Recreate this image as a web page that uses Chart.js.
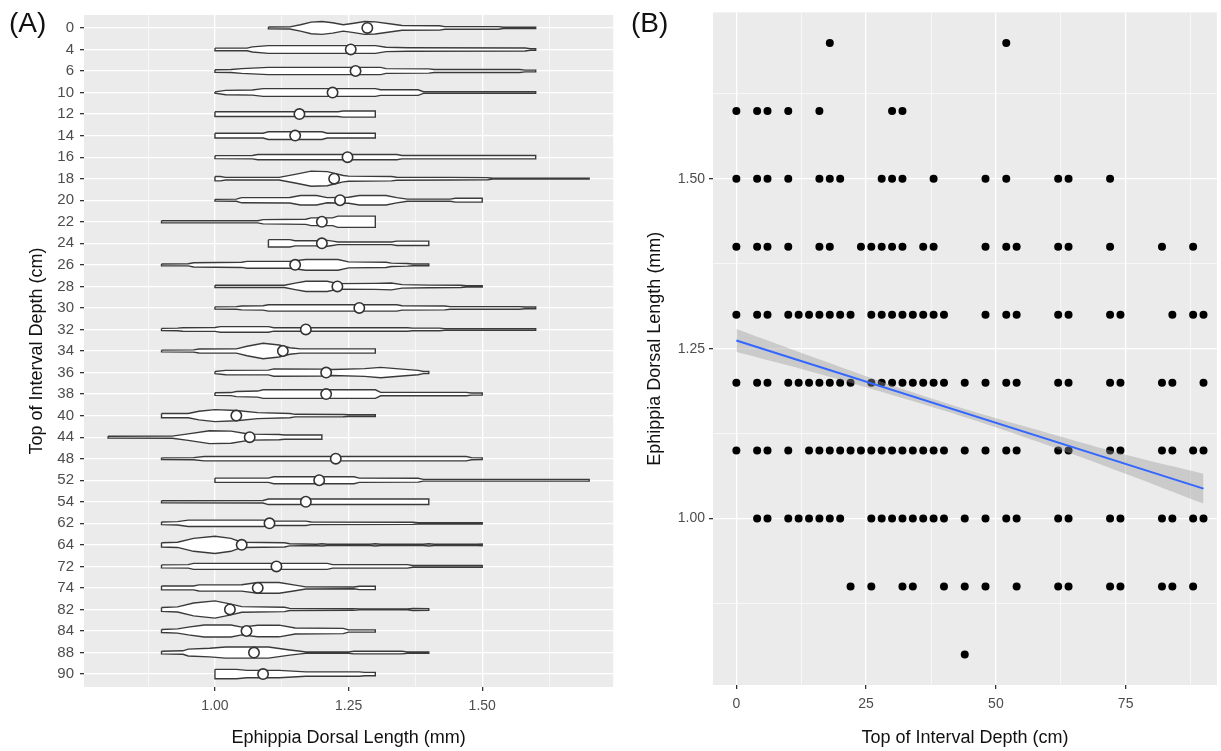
<!DOCTYPE html>
<html>
<head>
<meta charset="utf-8">
<script src="https://cdn.jsdelivr.net/npm/chart.js@4.4.1/dist/chart.umd.min.js"></script>
<style>
  html, body { margin: 0; padding: 0; background: #fff; }
  #wrap { position: relative; width: 1221px; height: 751px; overflow: hidden; }
  canvas { position: absolute; top: 0; }
  #chartA { left: 0; }
  #chartB { left: 620px; }
  .tag { position: absolute; top: 7px; font: 28px 'Liberation Sans', Arial, sans-serif; color: #111; }
</style>
</head>
<body>
<div id="wrap">
  <canvas id="chartA" width="620" height="751"></canvas>
  <canvas id="chartB" width="601" height="751"></canvas>
  <div class="tag" style="left:9px">(A)</div>
  <div class="tag" style="left:631px">(B)</div>
</div>
<script>
// ---- Panel A: dorsal length by interval depth (violins + means) ----
const depthLabels = ['0', '4', '6', '10', '12', '14', '16', '18', '20', '22', '24', '26', '28', '30', '32',
  '34', '36', '38', '40', '44', '48', '52', '54', '62', '64', '72', '74', '82', '84', '88', '90'];

const meanLengths = [1.285, 1.254, 1.263, 1.22, 1.158, 1.15, 1.248, 1.223, 1.234, 1.2, 1.2, 1.15, 1.229,
  1.27, 1.17, 1.127, 1.208, 1.208, 1.04, 1.065, 1.226, 1.195, 1.17, 1.102, 1.05, 1.115, 1.08, 1.028,
  1.059, 1.073, 1.09];

// violin outline per depth: [length (mm), half width (fraction of a row)]
const violinProfiles = [
  /* 0 */  [[1.10, 0.04], [1.14, 0.05], [1.16, 0.15], [1.18, 0.27], [1.20, 0.3], [1.22, 0.24], [1.24, 0.15], [1.26, 0.22], [1.28, 0.3], [1.30, 0.28], [1.33, 0.18], [1.35, 0.11], [1.42, 0.1], [1.43, 0.06], [1.53, 0.06], [1.54, 0.03], [1.60, 0.03]],
  /* 4 */  [[1.00, 0.06], [1.06, 0.06], [1.07, 0.12], [1.10, 0.18], [1.30, 0.18], [1.32, 0.1], [1.36, 0.08], [1.58, 0.07], [1.59, 0.04], [1.60, 0.04]],
  /* 6 */  [[1.00, 0.06], [1.03, 0.07], [1.05, 0.11], [1.10, 0.17], [1.31, 0.17], [1.32, 0.11], [1.40, 0.1], [1.41, 0.07], [1.57, 0.07], [1.58, 0.04], [1.60, 0.04]],
  /* 10 */ [[1.00, 0.03], [1.02, 0.1], [1.07, 0.12], [1.09, 0.18], [1.30, 0.18], [1.31, 0.13], [1.38, 0.13], [1.39, 0.04], [1.60, 0.04]],
  /* 12 */ [[1.00, 0.11], [1.23, 0.11], [1.24, 0.14], [1.30, 0.14]],
  /* 14 */ [[1.00, 0.11], [1.09, 0.11], [1.10, 0.18], [1.20, 0.18], [1.21, 0.11], [1.30, 0.11]],
  /* 16 */ [[1.00, 0.07], [1.07, 0.08], [1.08, 0.12], [1.34, 0.12], [1.35, 0.08], [1.60, 0.08]],
  /* 18 */ [[1.00, 0.1], [1.01, 0.1], [1.02, 0.06], [1.12, 0.06], [1.15, 0.2], [1.18, 0.35], [1.21, 0.33], [1.24, 0.15], [1.25, 0.12], [1.33, 0.1], [1.34, 0.07], [1.44, 0.06], [1.51, 0.05], [1.52, 0.02], [1.70, 0.02]],
  /* 20 */ [[1.00, 0.04], [1.04, 0.05], [1.05, 0.12], [1.14, 0.13], [1.16, 0.22], [1.19, 0.22], [1.21, 0.12], [1.25, 0.14], [1.27, 0.22], [1.32, 0.22], [1.34, 0.12], [1.36, 0.05], [1.44, 0.05], [1.45, 0.09], [1.50, 0.09]],
  /* 22 */ [[0.90, 0.05], [1.08, 0.05], [1.09, 0.1], [1.17, 0.12], [1.18, 0.18], [1.22, 0.18], [1.23, 0.26], [1.30, 0.26]],
  /* 24 */ [[1.10, 0.17], [1.14, 0.17], [1.15, 0.12], [1.19, 0.12], [1.20, 0.17], [1.22, 0.1], [1.23, 0.06], [1.33, 0.06], [1.34, 0.1], [1.40, 0.1]],
  /* 26 */ [[0.90, 0.04], [0.95, 0.05], [0.96, 0.1], [1.05, 0.12], [1.06, 0.16], [1.14, 0.16], [1.17, 0.25], [1.23, 0.25], [1.25, 0.14], [1.32, 0.12], [1.33, 0.08], [1.36, 0.06], [1.37, 0.04], [1.40, 0.04]],
  /* 28 */ [[1.00, 0.05], [1.13, 0.05], [1.15, 0.15], [1.17, 0.24], [1.21, 0.24], [1.23, 0.13], [1.30, 0.14], [1.33, 0.16], [1.35, 0.08], [1.40, 0.06], [1.46, 0.05], [1.47, 0.03], [1.50, 0.03]],
  /* 30 */ [[1.00, 0.05], [1.04, 0.06], [1.05, 0.09], [1.09, 0.1], [1.10, 0.15], [1.34, 0.15], [1.35, 0.1], [1.43, 0.09], [1.44, 0.06], [1.57, 0.06], [1.58, 0.04], [1.60, 0.04]],
  /* 32 */ [[0.90, 0.05], [0.93, 0.06], [0.94, 0.08], [1.00, 0.09], [1.01, 0.13], [1.10, 0.13], [1.11, 0.08], [1.36, 0.08], [1.37, 0.06], [1.42, 0.06], [1.43, 0.04], [1.60, 0.04]],
  /* 34 */ [[0.90, 0.04], [0.96, 0.05], [0.97, 0.09], [1.04, 0.1], [1.06, 0.22], [1.09, 0.36], [1.12, 0.28], [1.14, 0.15], [1.16, 0.1], [1.30, 0.1]],
  /* 36 */ [[1.00, 0.05], [1.02, 0.1], [1.10, 0.11], [1.11, 0.17], [1.20, 0.16], [1.22, 0.14], [1.28, 0.18], [1.31, 0.24], [1.35, 0.16], [1.38, 0.1], [1.39, 0.05], [1.40, 0.05]],
  /* 38 */ [[1.00, 0.06], [1.03, 0.07], [1.04, 0.12], [1.08, 0.14], [1.09, 0.2], [1.30, 0.2], [1.31, 0.08], [1.47, 0.08], [1.48, 0.05], [1.50, 0.05]],
  /* 40 */ [[0.90, 0.1], [0.95, 0.1], [0.97, 0.2], [1.00, 0.28], [1.04, 0.24], [1.08, 0.14], [1.14, 0.1], [1.15, 0.06], [1.24, 0.05], [1.25, 0.04], [1.30, 0.04]],
  /* 44 */ [[0.80, 0.04], [0.92, 0.05], [0.95, 0.15], [0.99, 0.3], [1.03, 0.28], [1.06, 0.16], [1.07, 0.14], [1.12, 0.12], [1.13, 0.1], [1.20, 0.1]],
  /* 48 */ [[0.90, 0.04], [0.96, 0.05], [0.98, 0.1], [1.47, 0.1], [1.48, 0.05], [1.50, 0.04]],
  /* 52 */ [[1.00, 0.1], [1.10, 0.1], [1.11, 0.16], [1.26, 0.16], [1.27, 0.1], [1.38, 0.09], [1.39, 0.04], [1.70, 0.04]],
  /* 54 */ [[0.90, 0.05], [1.09, 0.06], [1.10, 0.13], [1.40, 0.13]],
  /* 62 */ [[0.90, 0.06], [0.93, 0.08], [0.95, 0.15], [1.09, 0.15], [1.11, 0.1], [1.17, 0.1], [1.18, 0.06], [1.37, 0.05], [1.38, 0.03], [1.50, 0.03]],
  /* 64 */ [[0.90, 0.1], [0.93, 0.12], [0.96, 0.3], [1.00, 0.4], [1.03, 0.3], [1.05, 0.12], [1.13, 0.1], [1.14, 0.05], [1.19, 0.03], [1.20, 0.05], [1.21, 0.03], [1.29, 0.03], [1.30, 0.05], [1.31, 0.03], [1.39, 0.03], [1.40, 0.05], [1.41, 0.03], [1.49, 0.03], [1.50, 0.04]],
  /* 72 */ [[0.90, 0.07], [0.95, 0.08], [0.96, 0.14], [1.21, 0.14], [1.22, 0.08], [1.36, 0.08], [1.37, 0.04], [1.50, 0.04]],
  /* 74 */ [[0.90, 0.09], [0.96, 0.09], [0.97, 0.14], [1.05, 0.15], [1.08, 0.25], [1.12, 0.25], [1.15, 0.13], [1.17, 0.05], [1.26, 0.04], [1.27, 0.08], [1.30, 0.08]],
  /* 82 */ [[0.90, 0.09], [0.93, 0.12], [0.96, 0.3], [1.00, 0.4], [1.03, 0.25], [1.05, 0.13], [1.13, 0.1], [1.14, 0.05], [1.26, 0.04], [1.27, 0.02], [1.36, 0.02], [1.37, 0.05], [1.40, 0.04]],
  /* 84 */ [[0.90, 0.07], [0.93, 0.1], [0.95, 0.18], [0.98, 0.28], [1.03, 0.28], [1.05, 0.18], [1.08, 0.27], [1.12, 0.27], [1.15, 0.14], [1.24, 0.12], [1.25, 0.05], [1.30, 0.05]],
  /* 88 */ [[0.90, 0.06], [0.94, 0.08], [0.95, 0.16], [0.99, 0.2], [1.02, 0.26], [1.10, 0.26], [1.14, 0.12], [1.16, 0.06], [1.17, 0.03], [1.25, 0.03], [1.26, 0.06], [1.35, 0.06], [1.36, 0.03], [1.40, 0.03]],
  /* 90 */ [[1.00, 0.22], [1.04, 0.22], [1.06, 0.17], [1.12, 0.17], [1.17, 0.1], [1.27, 0.1], [1.28, 0.08], [1.30, 0.08]]
];

const lengthMajorTicks = [1.0, 1.25, 1.5];
const lengthMinorTicks = [0.875, 1.125, 1.375, 1.625];

// ---- Panel B: dorsal length vs depth (points + linear fit) ----
const depthsAt170 = [18, 52];
const depthsAt160 = [0, 4, 6, 10, 16, 30, 32];
const depthsAt150 = [0, 4, 6, 10, 16, 18, 20, 28, 30, 32, 38, 48, 52, 62, 64, 72];
const depthsAt140 = [0, 4, 6, 10, 16, 18, 24, 26, 28, 30, 32, 36, 38, 48, 52, 54, 62, 64, 72, 82, 88];
const depthsAt130 = [0, 4, 6, 10, 12, 14, 16, 18, 20, 22, 26, 28, 30, 32, 34, 36, 38, 40, 48, 52, 54, 62, 64, 72, 74, 84, 88, 90];
const depthsAt120 = [0, 4, 6, 10, 12, 14, 16, 18, 20, 22, 26, 28, 30, 32, 34, 36, 38, 40, 44, 48, 52, 54, 62, 64, 72, 74, 82, 84, 90];
const depthsAt110 = [0, 4, 6, 10, 14, 16, 18, 20, 22, 24, 26, 28, 30, 32, 34, 36, 38, 40, 44, 48, 52, 54, 62, 64, 72, 74, 82, 84, 88, 90];
const depthsAt100 = [4, 6, 10, 12, 14, 16, 18, 20, 26, 28, 30, 32, 34, 36, 38, 40, 44, 48, 52, 54, 62, 64, 72, 74, 82, 84, 88, 90];
const depthsAt090 = [22, 26, 32, 34, 40, 44, 48, 54, 62, 64, 72, 74, 82, 84, 88];
const depthsAt080 = [44];

const lengthLevels = [1.7, 1.6, 1.5, 1.4, 1.3, 1.2, 1.1, 1.0, 0.9, 0.8];
const depthsByLevel = [depthsAt170, depthsAt160, depthsAt150, depthsAt140, depthsAt130,
  depthsAt120, depthsAt110, depthsAt100, depthsAt090, depthsAt080];

const fitDepths = [0, 90];
const fitLengths = [1.262, 1.044];
const bandDepths = [0, 15, 30, 45, 60, 75, 90];
const bandUpper = [1.279, 1.237, 1.196, 1.159, 1.126, 1.094, 1.066];
const bandLower = [1.245, 1.215, 1.182, 1.147, 1.108, 1.066, 1.022];

const depthMajorTicks = [0, 25, 50, 75];
const depthMinorTicks = [12.5, 37.5, 62.5, 87.5];

// ---- shared look ----
Chart.defaults.font.family = "'Liberation Sans', Arial, sans-serif";
Chart.defaults.animation = false;

const panelBackground = {
  id: 'panelBackground',
  beforeDraw(chart) {
    const { ctx, chartArea: a } = chart;
    ctx.save();
    ctx.fillStyle = '#ebebeb';
    ctx.fillRect(a.left, a.top, a.right - a.left, a.bottom - a.top);
    ctx.restore();
  }
};

const tickFont = { size: 14 };
const titleFont = { size: 18 };

function gridAxis(major, minor, fmt, extra) {
  const all = major.concat(minor).sort((a, b) => a - b);
  const isMajor = v => major.includes(v);
  return Object.assign({
    type: 'linear',
    afterBuildTicks: s => { s.ticks = all.map(v => ({ value: v })); },
    border: { display: false },
    grid: {
      color: '#ffffff',
      lineWidth: c => (c.tick && isMajor(c.tick.value)) ? 1.3 : 0.6,
      tickColor: c => (c.tick && isMajor(c.tick.value)) ? '#333333' : 'rgba(0,0,0,0)',
      tickLength: 4
    },
    ticks: {
      autoSkip: false, maxRotation: 0, color: '#4d4d4d', font: tickFont, padding: 7,
      callback: v => isMajor(v) ? fmt(v) : ''
    }
  }, extra);
}

// ---- build panel A ----
const violinSets = violinProfiles.map((prof, i) => {
  const upper = prof.map(([v, w]) => ({ x: v, y: i - w }));
  const lower = prof.slice().reverse().map(([v, w]) => ({ x: v, y: i + w }));
  return {
    data: upper.concat(lower, [upper[0]]),
    showLine: true,
    fill: 'shape',
    backgroundColor: '#ffffff',
    borderColor: '#3a3a3a',
    borderWidth: 1.4,
    pointRadius: 0,
    tension: 0,
    order: 1
  };
});

const meanSet = {
  data: meanLengths.map((m, i) => ({ x: m, y: i })),
  pointRadius: 5.2,
  pointBackgroundColor: '#ffffff',
  pointBorderColor: '#333333',
  pointBorderWidth: 1.6,
  order: 0
};

const lengthAxisA = gridAxis(lengthMajorTicks, lengthMinorTicks, v => v.toFixed(2), {
  min: 0.755, max: 1.745,
  afterFit: s => { s.height = 64; },
  title: { display: true, text: 'Ephippia Dorsal Length (mm)', color: '#111', font: titleFont, padding: { top: 0, bottom: 2 } }
});

new Chart(document.getElementById('chartA'), {
  type: 'scatter',
  data: { datasets: [meanSet].concat(violinSets) },
  options: {
    responsive: false,
    events: [],
    layout: { padding: { top: 9, right: 5, left: 0, bottom: 0 } },
    plugins: { legend: { display: false }, tooltip: { enabled: false } },
    scales: {
      x: lengthAxisA,
      y: {
        type: 'linear',
        reverse: true,
        min: -0.6, max: depthLabels.length - 0.4,
        afterBuildTicks: s => { s.ticks = depthLabels.map((_, i) => ({ value: i })); },
        afterFit: s => { s.width = 84; },
        border: { display: false },
        grid: { color: '#ffffff', lineWidth: 1.3, tickColor: '#333333', tickLength: 4 },
        ticks: { autoSkip: false, color: '#4d4d4d', font: { size: 15 }, padding: 6, callback: v => depthLabels[v] },
        title: { display: true, text: 'Top of Interval Depth (cm)', color: '#111', font: titleFont, padding: { top: 26 } }
      }
    }
  },
  plugins: [panelBackground]
});

// ---- build panel B ----
const scatterPoints = [];
lengthLevels.forEach((len, k) => {
  depthsByLevel[k].forEach(d => scatterPoints.push({ x: d, y: len }));
});

const depthAxisB = gridAxis(depthMajorTicks, depthMinorTicks, v => String(v), {
  min: -4.5, max: 92.6,
  afterFit: s => { s.height = 66; },
  title: { display: true, text: 'Top of Interval Depth (cm)', color: '#111', font: titleFont, padding: { top: 0, bottom: 2 } }
});

const lengthAxisB = gridAxis(lengthMajorTicks, lengthMinorTicks, v => v.toFixed(2), {
  min: 0.755, max: 1.745,
  afterFit: s => { s.width = 93; },
  title: { display: true, text: 'Ephippia Dorsal Length (mm)', color: '#111', font: titleFont, padding: { top: 24 } }
});
lengthAxisB.ticks.padding = 4;

new Chart(document.getElementById('chartB'), {
  type: 'scatter',
  data: {
    datasets: [
      {
        data: fitDepths.map((d, i) => ({ x: d, y: fitLengths[i] })),
        showLine: true, borderColor: '#3366ff', borderWidth: 2, pointRadius: 0, fill: false
      },
      {
        data: bandDepths.map((d, i) => ({ x: d, y: bandUpper[i] })),
        showLine: true, borderWidth: 0, borderColor: 'rgba(0,0,0,0)', pointRadius: 0,
        tension: 0.3, fill: '+1', backgroundColor: 'rgba(153,153,153,0.4)'
      },
      {
        data: bandDepths.map((d, i) => ({ x: d, y: bandLower[i] })),
        showLine: true, borderWidth: 0, borderColor: 'rgba(0,0,0,0)', pointRadius: 0,
        tension: 0.3, fill: false
      },
      {
        data: scatterPoints,
        pointRadius: 4, pointBackgroundColor: '#000000', pointBorderWidth: 0
      }
    ]
  },
  options: {
    responsive: false,
    events: [],
    layout: { padding: { top: 11, right: 3, left: 0, bottom: 0 } },
    plugins: { legend: { display: false }, tooltip: { enabled: false } },
    scales: { x: depthAxisB, y: lengthAxisB }
  },
  plugins: [panelBackground]
});
</script>
</body>
</html>
